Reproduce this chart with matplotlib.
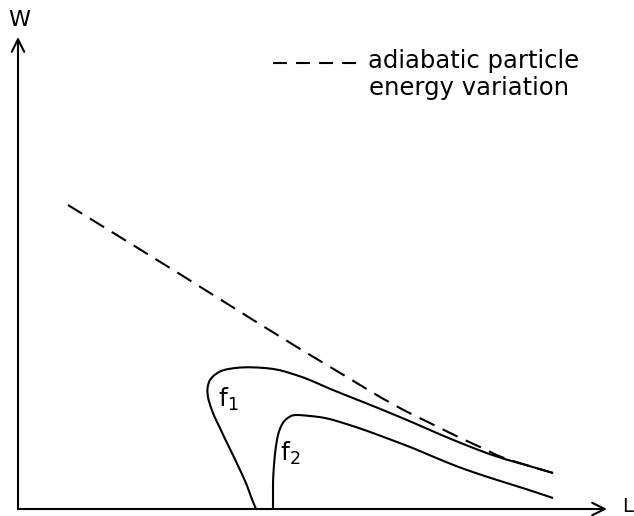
import numpy as np
import matplotlib.pyplot as plt
from matplotlib.path import Path
from matplotlib.patches import PathPatch

plt.rcParams['lines.scale_dashes'] = False

# adiabatic particle energy variation (dashed), L vs W
L_adiab = [50, 162, 262, 329, 375, 412, 442, 469, 482, 508, 535]
W_adiab = [304, 235, 172, 132, 104, 86, 71, 59, 52, 44, 36]

# contour f1
L_f1 = [238, 233, 229, 222, 215, 208, 202, 196, 192, 189, 190, 194, 199, 205,
        216, 229, 249, 262, 275, 290, 312, 340, 365, 395, 422, 450, 479, 508, 535]
W_f1 = [0, 12, 24, 39, 54, 68, 81, 93, 104, 115, 126, 132, 136, 139,
        141, 142, 141, 139, 135, 130, 120, 109, 99, 86.5, 74.5, 63, 52, 44, 36]

# contour f2
L_f2 = [255, 255, 255, 256, 257, 259, 261, 264, 267, 271, 275, 282, 292, 302,
        312, 322, 338, 355, 375, 395, 417, 439, 459, 479, 508, 535]
W_f2 = [0, 15, 30, 44, 56, 70, 78, 85, 89, 92, 94, 94, 93, 92,
        90, 87, 82, 76, 68.5, 61, 51.5, 42.5, 35.5, 29, 20, 11]


def smooth_path(xs, ys):
    # quadratic bezier through the midpoints, corners at the given points
    p = np.column_stack([xs, ys]).astype(float)
    mids = (p[:-1] + p[1:]) / 2
    verts = [p[0], mids[0]]
    codes = [Path.MOVETO, Path.LINETO]
    for i in range(1, len(p) - 1):
        verts += [p[i], mids[i]]
        codes += [Path.CURVE3, Path.CURVE3]
    verts.append(p[-1])
    codes.append(Path.LINETO)
    return Path(verts, codes)


fig = plt.figure(figsize=(6.34, 5.16), dpi=100)
ax = fig.add_axes([0, 0, 1, 1])
ax.set_xlim(-18, 616)
ax.set_ylim(-7, 509)
ax.axis('off')

lw = 1.5
# axes with open arrow heads
arrow = dict(arrowstyle='->,head_length=0.9,head_width=0.45', lw=1.5, color='black',
             shrinkA=0, shrinkB=0)
ax.annotate('', xy=(0, 472), xytext=(0, 0), arrowprops=arrow)
ax.annotate('', xy=(589, 0), xytext=(0, 0), arrowprops=arrow)
ax.text(1, 489, 'W', fontsize=16, ha='center', va='center')
ax.text(604, 2, 'L', fontsize=14, ha='left', va='center')

for xs, ys, dashed in [(L_adiab, W_adiab, True), (L_f1, W_f1, False), (L_f2, W_f2, False)]:
    patch = PathPatch(smooth_path(xs, ys), fill=False, color='black', lw=lw)
    if dashed:
        patch.set_linestyle((0, (12, 6.5)))
    ax.add_patch(patch)

ax.text(210, 110, r'$\mathrm{f}_1$', fontsize=18, ha='center', va='center',
        math_fontfamily='dejavusans')
ax.text(272, 56, r'$\mathrm{f}_2$', fontsize=18, ha='center', va='center',
        math_fontfamily='dejavusans')

# legend entry
ax.plot([255, 339], [446, 446], color='black', lw=lw, dashes=(10, 6.6))
ax.text(350, 441, 'adiabatic particle', fontsize=17.5, ha='left', va='baseline')
ax.text(351, 414, 'energy variation', fontsize=17.5, ha='left', va='baseline')

fig.savefig('out.png', dpi=100)
